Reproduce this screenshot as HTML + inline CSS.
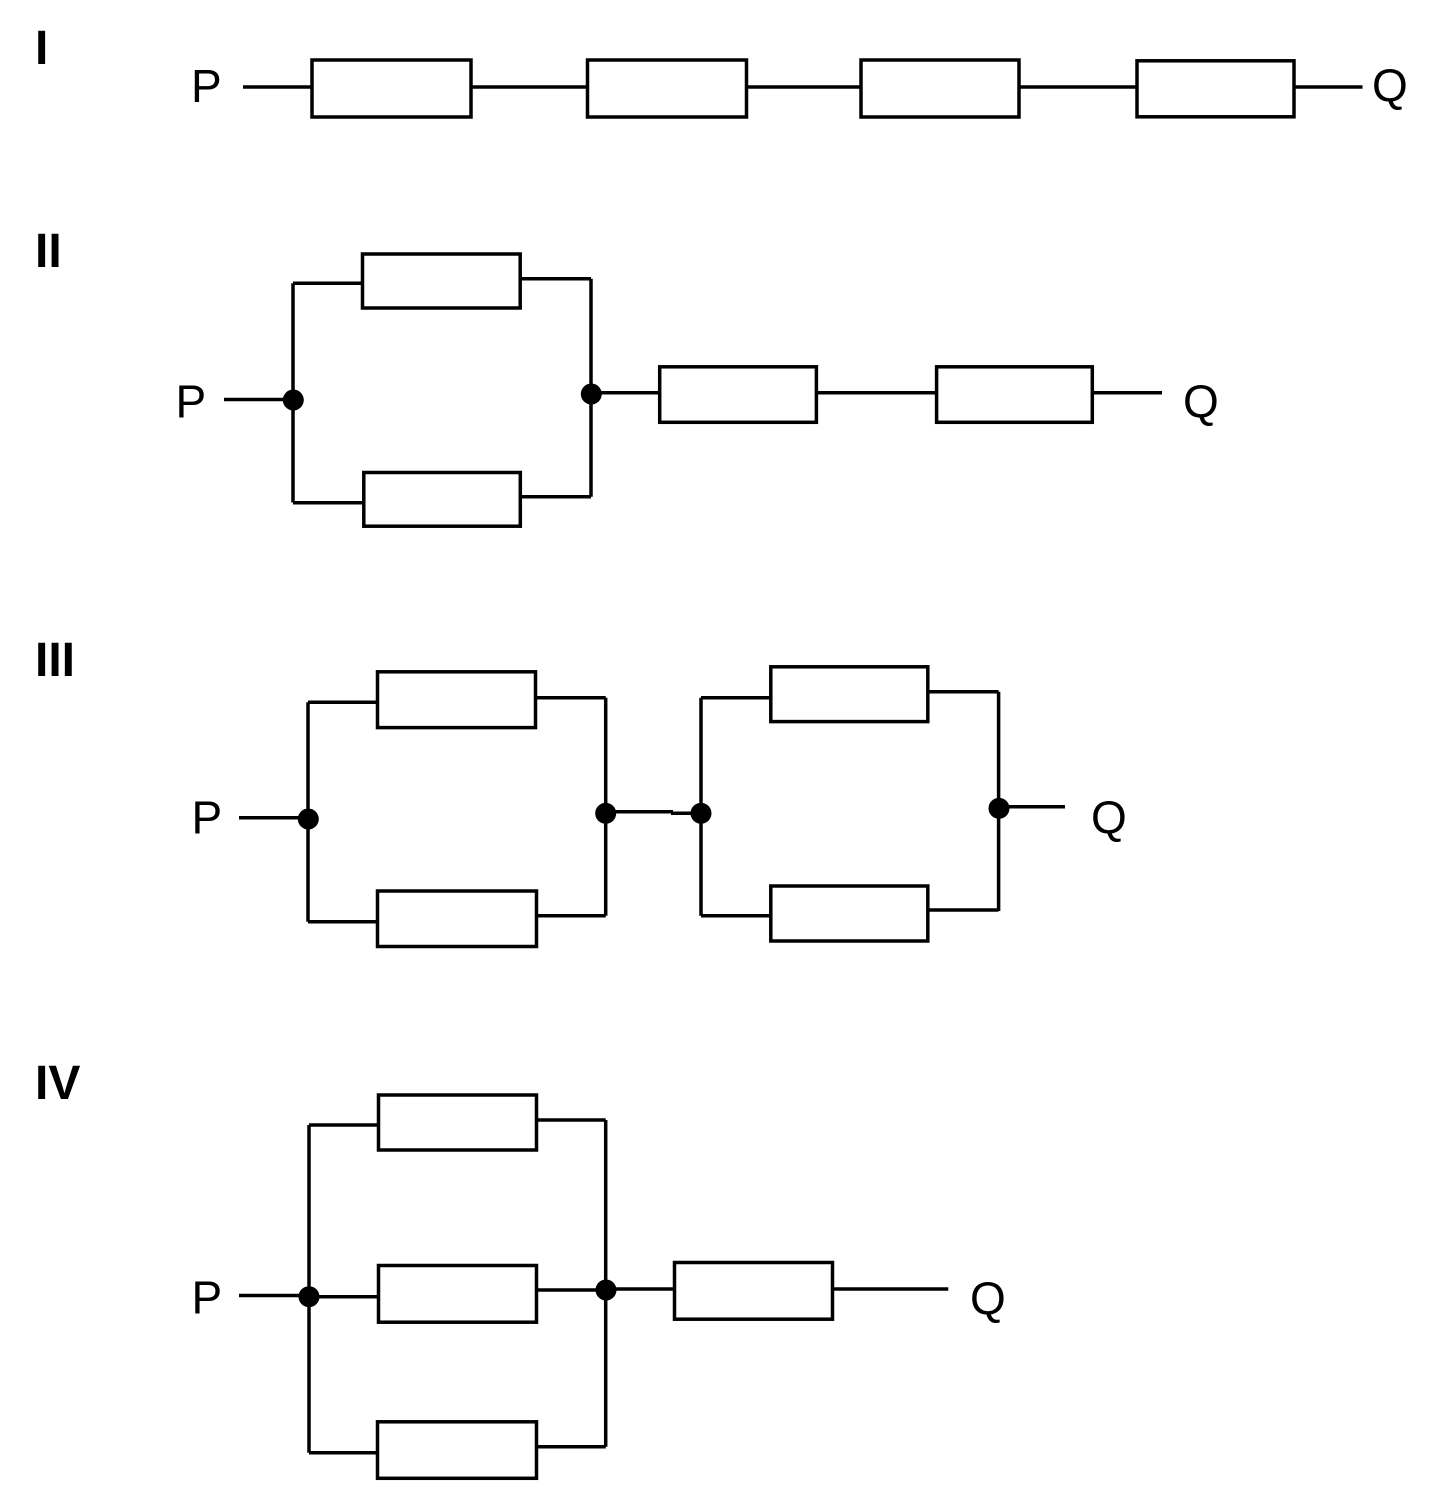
<!DOCTYPE html>
<html>
<head>
<meta charset="utf-8">
<style>
  html,body{margin:0;padding:0;background:#fff;}
  svg{display:block;}
  .lbl{font-family:"Liberation Sans",Arial,sans-serif;font-weight:bold;font-size:48px;fill:#000;}
  .pq{font-family:"Liberation Sans",Arial,sans-serif;font-size:46px;fill:#000;}
</style>
</head>
<body>
<svg width="1436" height="1508" viewBox="0 0 1436 1508" xmlns="http://www.w3.org/2000/svg">
  <rect x="0" y="0" width="1436" height="1508" fill="#fff"/>
  <g fill="none" stroke="#000" stroke-width="3.5">
    <!-- ===== I ===== -->
    <rect x="312" y="60" width="159" height="57"/>
    <rect x="587.5" y="60" width="159" height="57"/>
    <rect x="861" y="60" width="158" height="57"/>
    <rect x="1137" y="60.8" width="157" height="56"/>
    <line x1="243" y1="87" x2="312" y2="87"/>
    <line x1="471" y1="87" x2="587.5" y2="87"/>
    <line x1="746.5" y1="87" x2="861" y2="87"/>
    <line x1="1019" y1="87" x2="1137" y2="87"/>
    <line x1="1294" y1="87" x2="1362.5" y2="87"/>

    <!-- ===== II ===== -->
    <line x1="224" y1="399.5" x2="293" y2="399.5"/>
    <line x1="293" y1="283.3" x2="293" y2="502.5"/>
    <rect x="362.5" y="254" width="157.7" height="54"/>
    <line x1="293" y1="283.3" x2="362.5" y2="283.3"/>
    <line x1="520.2" y1="278.7" x2="591" y2="278.7"/>
    <line x1="591" y1="278.7" x2="591" y2="496.7"/>
    <rect x="363.8" y="472.5" width="156.5" height="53.7"/>
    <line x1="293" y1="502.7" x2="363.8" y2="502.7"/>
    <line x1="520.3" y1="496.7" x2="591" y2="496.7"/>
    <line x1="591" y1="392.7" x2="659.7" y2="392.7"/>
    <rect x="659.7" y="366.8" width="156.7" height="55.5"/>
    <line x1="816.4" y1="392.7" x2="936.6" y2="392.7"/>
    <rect x="936.6" y="366.8" width="155.7" height="55.5"/>
    <line x1="1092.3" y1="392.7" x2="1162" y2="392.7"/>

    <!-- ===== III ===== -->
    <line x1="239" y1="817.7" x2="308" y2="817.7"/>
    <line x1="308" y1="702.3" x2="308" y2="921.7"/>
    <rect x="377.5" y="671.8" width="158" height="55.8"/>
    <line x1="308" y1="702.3" x2="377.5" y2="702.3"/>
    <line x1="535.5" y1="697.7" x2="605.7" y2="697.7"/>
    <line x1="605.7" y1="697.7" x2="605.7" y2="915.7"/>
    <rect x="377.5" y="891" width="159" height="55.5"/>
    <line x1="308" y1="921.7" x2="377.5" y2="921.7"/>
    <line x1="536.5" y1="915.7" x2="605.7" y2="915.7"/>
    <line x1="605.7" y1="811.8" x2="673" y2="811.8"/>
    <line x1="671" y1="813.3" x2="701" y2="813.3"/>
    <line x1="701" y1="697.7" x2="701" y2="915.7"/>
    <rect x="770.8" y="666.8" width="157" height="54.8"/>
    <line x1="701" y1="697.7" x2="770.8" y2="697.7"/>
    <line x1="927.8" y1="691.7" x2="998.6" y2="691.7"/>
    <line x1="998.6" y1="691.7" x2="998.6" y2="911"/>
    <rect x="770.8" y="886" width="157" height="55"/>
    <line x1="701" y1="915.7" x2="770.8" y2="915.7"/>
    <line x1="927.8" y1="910" x2="998.6" y2="910"/>
    <line x1="998.6" y1="806.7" x2="1065" y2="806.7"/>

    <!-- ===== IV ===== -->
    <line x1="239" y1="1295.5" x2="309" y2="1295.5"/>
    <line x1="309" y1="1125" x2="309" y2="1452.7"/>
    <rect x="378.5" y="1095" width="158" height="55"/>
    <line x1="309" y1="1125" x2="378.5" y2="1125"/>
    <line x1="536.5" y1="1120" x2="605.7" y2="1120"/>
    <rect x="378.5" y="1265.5" width="158" height="56.7"/>
    <line x1="309" y1="1296.7" x2="378.5" y2="1296.7"/>
    <line x1="536.5" y1="1290" x2="605.7" y2="1290"/>
    <rect x="377.5" y="1421.8" width="159" height="56.5"/>
    <line x1="309" y1="1452.7" x2="377.5" y2="1452.7"/>
    <line x1="536.5" y1="1446.7" x2="605.7" y2="1446.7"/>
    <line x1="605.7" y1="1120" x2="605.7" y2="1446.7"/>
    <line x1="605.7" y1="1289" x2="674.5" y2="1289"/>
    <rect x="674.5" y="1262.5" width="158" height="56.7"/>
    <line x1="832.5" y1="1289" x2="948.3" y2="1289"/>
  </g>

  <!-- junction dots -->
  <g fill="#000">
    <circle cx="293.3" cy="400" r="10.5"/>
    <circle cx="591.3" cy="394" r="10.5"/>
    <circle cx="308.3" cy="819" r="10.5"/>
    <circle cx="605.7" cy="813.3" r="10.5"/>
    <circle cx="701" cy="813.3" r="10.5"/>
    <circle cx="999" cy="808.3" r="10.5"/>
    <circle cx="309" cy="1296.7" r="10.5"/>
    <circle cx="606" cy="1290" r="10.5"/>
  </g>

  <!-- labels -->
  <text class="lbl" x="35" y="64">I</text>
  <text class="lbl" x="35" y="267">II</text>
  <text class="lbl" x="35" y="676">III</text>
  <text class="lbl" x="35" y="1099">IV</text>

  <text class="pq" x="191" y="102">P</text>
  <text class="pq" x="1372" y="101">Q</text>

  <text class="pq" x="175.5" y="417.5">P</text>
  <text class="pq" x="1183" y="417">Q</text>

  <text class="pq" x="191.5" y="833.5">P</text>
  <text class="pq" x="1091" y="833">Q</text>

  <text class="pq" x="191.5" y="1313.5">P</text>
  <text class="pq" x="970" y="1314">Q</text>
</svg>
</body>
</html>
